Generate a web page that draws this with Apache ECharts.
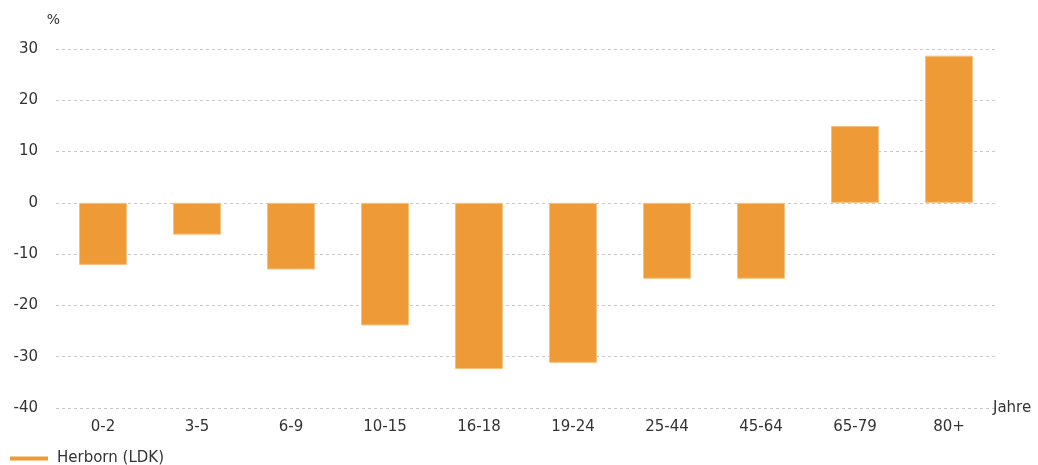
<!DOCTYPE html>
<html>
<head>
<meta charset="utf-8">
<script src="https://cdn.jsdelivr.net/npm/echarts@6/dist/echarts.min.js"></script>
<style>
  html, body { margin: 0; padding: 0; background: #fff; }
  #main { width: 1038px; height: 465px; }
</style>
</head>
<body>
<div id="main"></div>
<script>
// Altersgruppen
var categories = ['0-2', '3-5', '6-9', '10-15', '16-18', '19-24', '25-44', '45-64', '65-79', '80+']
// Veränderung in %
var herborn = [-12.1, -6.2, -13.0, -23.9, -32.4, -31.2, -14.8, -14.8, 15.0, 28.7]
var seriesName = 'Herborn (LDK)'

var chartDom = document.getElementById('main')
var myChart = echarts.init(chartDom)
var font = 'DejaVu Sans'

var option = {
  animation: false,
  textStyle: { fontFamily: font },
  legend: {
    left: 5,
    top: 451,
    padding: [0, 5, 0, 5],
    itemWidth: 38,
    itemHeight: 4,
    itemGap: 12,
    icon: 'rect',
    data: [seriesName],
    itemStyle: { borderWidth: 0 },
    textStyle: { fontFamily: font, fontSize: 15, color: '#333', padding: [0, 0, 0, 4] }
  },
  grid: {
    left: 56,
    right: 42,
    top: 49,
    bottom: 57
  },
  xAxis: {
    type: 'category',
    data: categories,
    name: 'Jahre',
    nameLocation: 'end',
    nameGap: -3,
    nameTextStyle: { fontFamily: font, fontSize: 15, color: '#333', align: 'left', verticalAlign: 'middle' },
    axisLine: { show: false, onZero: false },
    axisTick: { show: false },
    axisLabel: { fontFamily: font, fontSize: 15, color: '#333', margin: 12 }
  },
  yAxis: {
    type: 'value',
    min: -40,
    max: 30,
    interval: 10,
    name: '%',
    nameLocation: 'end',
    nameGap: 22,
    nameTextStyle: { fontFamily: font, fontSize: 14, color: '#333', align: 'right', padding: [0, -4, 0, 0] },
    axisLine: { show: false },
    axisTick: { show: false },
    axisLabel: { fontFamily: font, fontSize: 15, color: '#333', margin: 18 },
    splitLine: { lineStyle: { color: '#c8c8c8', type: [3, 3], width: 1 } }
  },
  series: [
    {
      name: seriesName,
      type: 'bar',
      data: herborn,
      barWidth: '51%',
      itemStyle: { color: '#ee9b37', borderColor: '#f5c27f', borderWidth: 1 }
    }
  ]
}
option && myChart.setOption(option)
</script>
</body>
</html>
